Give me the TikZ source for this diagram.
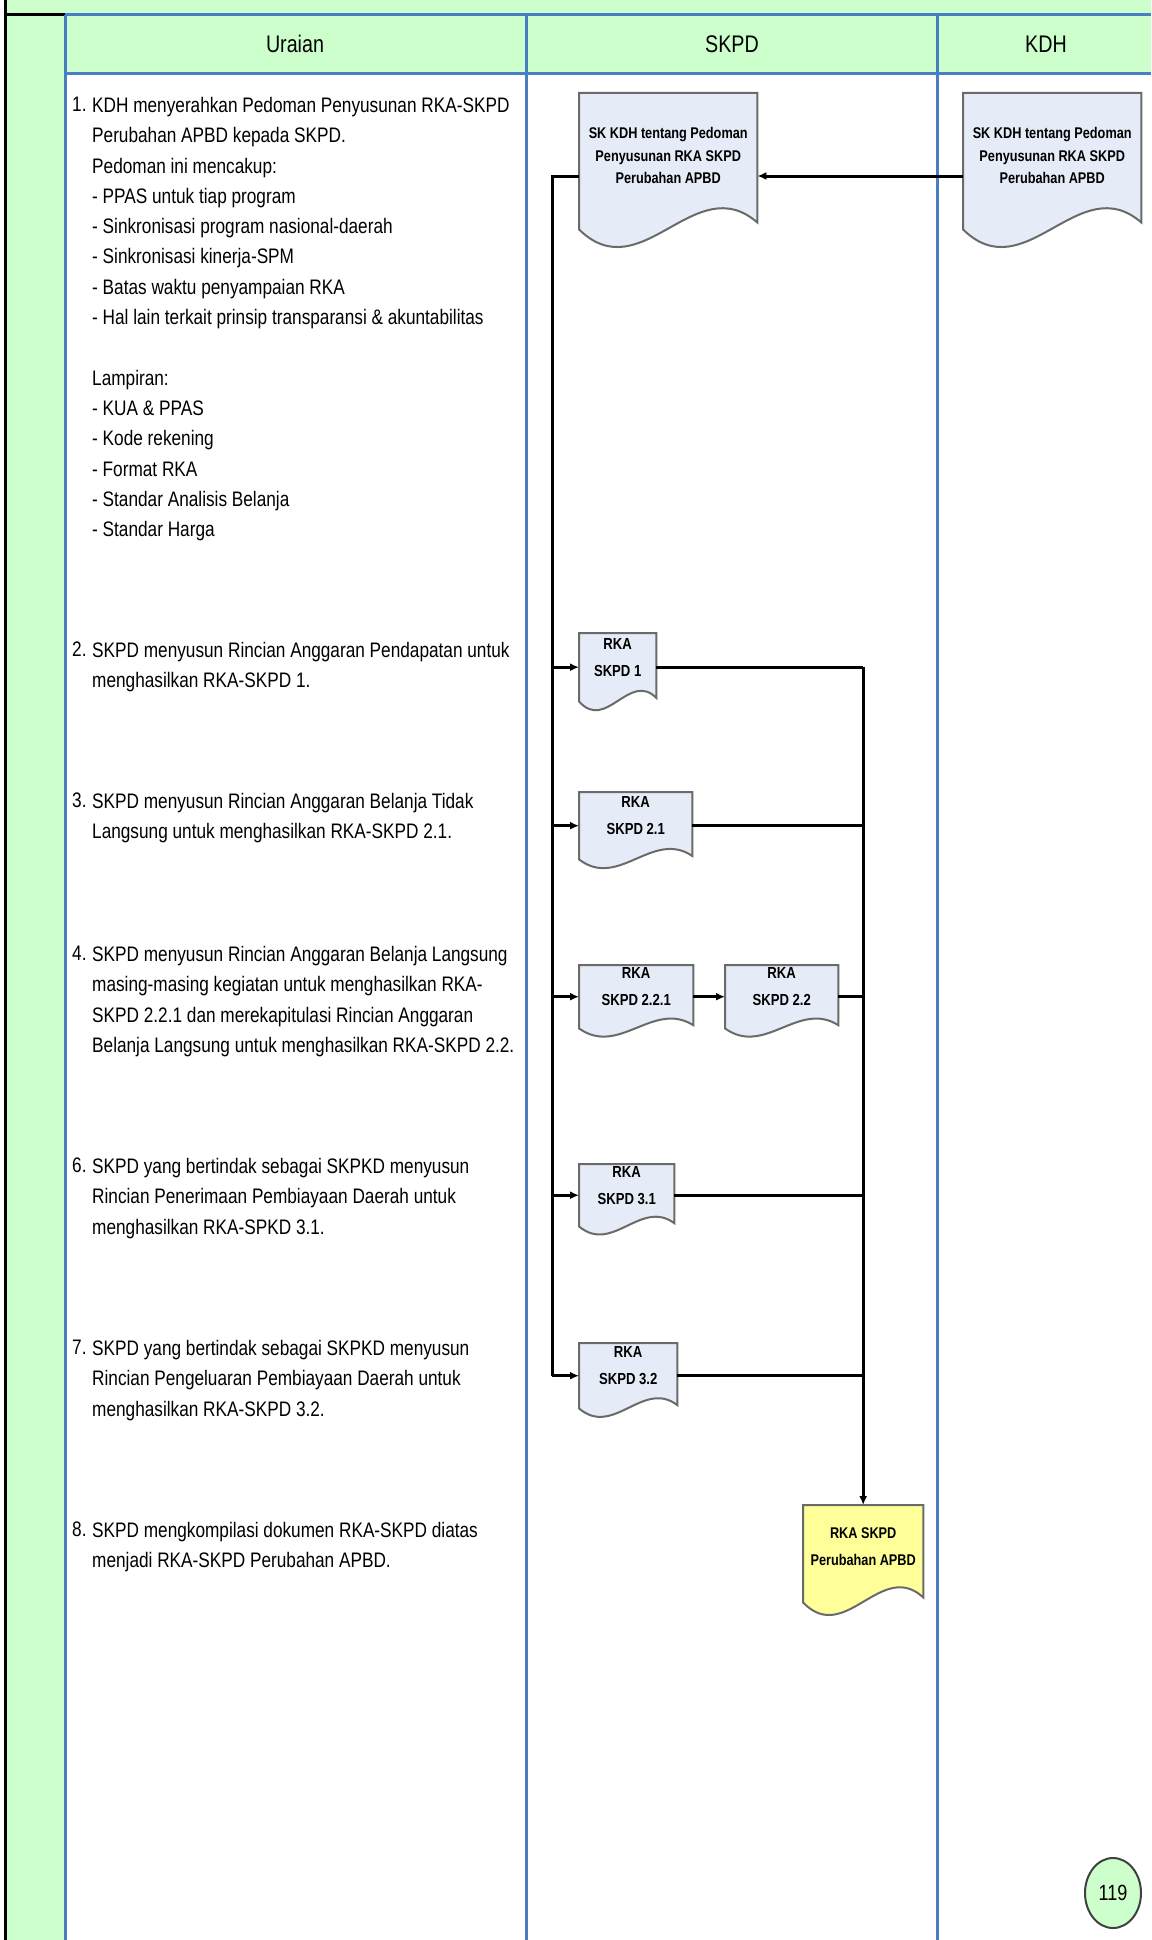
\documentclass[tikz,border=0pt]{standalone}
\usepackage{fontspec}
\setmainfont{Liberation Sans}[FakeStretch=0.82]
\usetikzlibrary{arrows.meta,backgrounds,calc,shapes.geometric}

\definecolor{lanegreen}{HTML}{CCFFCC}
\definecolor{laneblue}{HTML}{4A7EC4}
\definecolor{docblue}{HTML}{E6ECF7}
\definecolor{docyellow}{HTML}{FFFF99}
\definecolor{docedge}{HTML}{6A6A6A}

\begin{document}
\begin{tikzpicture}[
  x=1pt, y=-1pt,
  >={Latex[length=9pt,width=8pt]},
  every node/.style={inner sep=0pt},
  lanehead/.style={font=\fontsize{24}{28}\selectfont},
  itemnum/.style={anchor=north west, font=\fontsize{21}{30.3}\selectfont},
  itemtext/.style={anchor=north west, align=left, font=\fontsize{21}{30.3}\selectfont},
  docbox/.style={rectangle, anchor=north west, align=center, text depth=20pt,
                 font=\bfseries\fontsize{16}{27}\selectfont},
  bigdoc/.style={docbox, minimum width=178pt, minimum height=136pt, text depth=11pt,
                 font=\bfseries\fontsize{15.5}{22.5}\selectfont},
  docline/.style={draw=docedge, line width=2pt},
  msg/.style={->, line width=3pt},
  link/.style={line width=3pt},
  lane/.style={laneblue, line width=3pt},
  pagemark/.style={ellipse, draw=black!75, line width=2pt, fill=lanegreen,
                   minimum width=56pt, minimum height=70pt,
                   font=\fontsize{22}{26}\selectfont}
]

\def\picW{1151}
\def\picH{1940}
\def\colL{5}
\def\colU{65}
\def\colS{526}
\def\colK{937}
\def\headT{15}
\def\headB{74}
\def\numX{72}
\def\txtX{92}
\def\busL{552}

\useasboundingbox (0,0) rectangle (\picW,\picH);

\fill[lanegreen] (\colL,0) rectangle (\picW,\headT);
\fill[lanegreen] (\colL,\headT) rectangle (\colU,\picH);
\fill[lanegreen] (\colU,\headT) rectangle (\picW,\headB);
\draw[line width=3pt] (\colL,0) -- (\colL,\picH);
\draw[line width=3pt] (\colL,\headT) -- (\colU,\headT);
\draw[lane] (\colU,\headT) -- (\picW,\headT);
\draw[lane] (\colU,\headB) -- (\picW,\headB);
\foreach \cx in {\colU,\colS,\colK}
  \draw[lane] (\cx,\headT) -- (\cx,\picH);

\node[lanehead] at (295,44)  (hUraian) {Uraian};
\node[lanehead] at (732,44)  (hSKPD)   {SKPD};
\node[lanehead] at (1046,44) (hKDH)    {KDH};

\node[itemnum]  at (\numX,97) (n1) {1.};
\node[itemtext] at (\txtX,97) (t1) {KDH menyerahkan Pedoman Penyusunan RKA-SKPD\\
  Perubahan APBD kepada SKPD.\\
  Pedoman ini mencakup:\\
  - PPAS untuk tiap program\\
  - Sinkronisasi program nasional-daerah\\
  - Sinkronisasi kinerja-SPM\\
  - Batas waktu penyampaian RKA\\
  - Hal lain terkait prinsip transparansi \& akuntabilitas\\[30.3pt]
  Lampiran:\\
  - KUA \& PPAS\\
  - Kode rekening\\
  - Format RKA\\
  - Standar Analisis Belanja\\
  - Standar Harga};

\node[itemnum]  at (\numX,642) (n2) {2.};
\node[itemtext] at (\txtX,642) (t2) {SKPD menyusun Rincian Anggaran Pendapatan untuk\\
  menghasilkan RKA-SKPD 1.};

\node[itemnum]  at (\numX,793) (n3) {3.};
\node[itemtext] at (\txtX,793) (t3) {SKPD menyusun Rincian Anggaran Belanja Tidak\\
  Langsung untuk menghasilkan RKA-SKPD 2.1.};

\node[itemnum]  at (\numX,946) (n4) {4.};
\node[itemtext] at (\txtX,946) (t4) {SKPD menyusun Rincian Anggaran Belanja Langsung\\
  masing-masing kegiatan untuk menghasilkan RKA-\\
  SKPD 2.2.1 dan merekapitulasi Rincian Anggaran\\
  Belanja Langsung untuk menghasilkan RKA-SKPD 2.2.};

\node[itemnum]  at (\numX,1158) (n6) {6.};
\node[itemtext] at (\txtX,1158) (t6) {SKPD yang bertindak sebagai SKPKD menyusun\\
  Rincian Penerimaan Pembiayaan Daerah untuk\\
  menghasilkan RKA-SPKD 3.1.};

\node[itemnum]  at (\numX,1340) (n7) {7.};
\node[itemtext] at (\txtX,1340) (t7) {SKPD yang bertindak sebagai SKPKD menyusun\\
  Rincian Pengeluaran Pembiayaan Daerah untuk\\
  menghasilkan RKA-SKPD 3.2.};

\node[itemnum]  at (\numX,1522) (n8) {8.};
\node[itemtext] at (\txtX,1522) (t8) {SKPD mengkompilasi dokumen RKA-SKPD diatas\\
  menjadi RKA-SKPD Perubahan APBD.};

\node[bigdoc] at (579,93) (docSK)  {SK KDH tentang Pedoman\\Penyusunan RKA SKPD\\Perubahan APBD};
\node[bigdoc] at (963,93) (docKDH) {SK KDH tentang Pedoman\\Penyusunan RKA SKPD\\Perubahan APBD};

\node[docbox, minimum width=77pt,  minimum height=68pt] at (579,633)  (rkaA) {RKA\\SKPD 1};
\node[docbox, minimum width=113pt, minimum height=67pt] at (579,792)  (rkaB) {RKA\\SKPD 2.1};
\node[docbox, minimum width=114pt, minimum height=63pt] at (579,965)  (rkaC) {RKA\\SKPD 2.2.1};
\node[docbox, minimum width=113pt, minimum height=63pt] at (725,965)  (rkaD) {RKA\\SKPD 2.2};
\node[docbox, minimum width=95pt,  minimum height=62pt] at (579,1164) (rkaE) {RKA\\SKPD 3.1};
\node[docbox, minimum width=98pt,  minimum height=65pt] at (579,1343) (rkaF) {RKA\\SKPD 3.2};
\node[docbox, minimum width=120pt, minimum height=97pt, text depth=14pt,
      font=\bfseries\fontsize{15.5}{27}\selectfont] at (803,1505) (rkaOut) {RKA SKPD\\Perubahan APBD};

\begin{pgfonlayer}{background}
\foreach \d/\c in {docSK/docblue, docKDH/docblue, rkaA/docblue, rkaB/docblue,
                   rkaC/docblue, rkaD/docblue, rkaE/docblue, rkaF/docblue, rkaOut/docyellow}
  \draw[docline, fill=\c]
    let \p1=(\d.north west), \p2=(\d.south east), \n1={\x2-\x1}, \n2={\y1-\y2} in
    (\p1) -- (\x2,\y1) -- (\x2,{\y2+0.05*\n2})
    .. controls ({\x1+0.65*\n1},{\y2+0.45*\n2}) and ({\x1+0.35*\n1},{\y2-0.45*\n2})
    .. (\x1,\y2) -- cycle;
\end{pgfonlayer}

\draw[msg] (docKDH.west |- 0,176) -- (docSK.east |- 0,176);
\draw[link] (docSK.west |- 0,176) -| (\busL,0 |- rkaF.west);
\draw[msg] (\busL,0 |- rkaF.west) -- (rkaF.west);
\foreach \r in {rkaA,rkaB,rkaC,rkaE}
  \draw[msg] (\busL,0 |- \r.west) -- (\r.west);
\draw[msg] (rkaC.east) -- (rkaD.west);

\foreach \r in {rkaA,rkaB,rkaD,rkaE,rkaF}
  \draw[link] (\r.east) -- (rkaOut.north |- \r.east);
\draw[msg] (rkaOut.north |- rkaA.east) -- (rkaOut.north);

\node[pagemark] at (1113,1893) (page) {119};

\end{tikzpicture}
\end{document}
